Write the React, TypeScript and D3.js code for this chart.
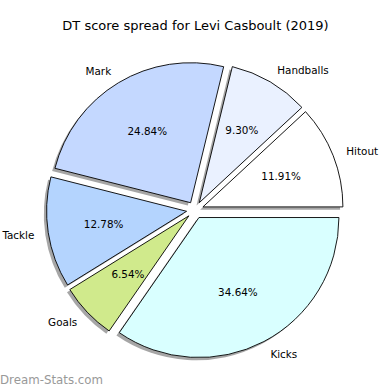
import React from 'react';
import * as d3 from 'd3';

const labels = ['Hitout', 'Handballs', 'Mark', 'Tackle', 'Goals', 'Kicks'];
const percents = [11.91, 9.3, 24.84, 12.78, 6.54, 34.64];
const colors = ['#ffffff', '#eaf1ff', '#c4d8ff', '#b4d4fe', '#d0ea8c', '#d9ffff'];

const W = 390;
const H = 390;
const cx = 195;
const cy = 210;
const R = 140;
const EXPLODE = 8.5;
const SHADOW = 2.8;
const FONT = 'DejaVu Sans, sans-serif';

export default function App(): React.ReactElement {
  // matplotlib pie: starts at east, goes counter-clockwise
  const pie = d3.pie<number>()
    .sort(null)
    .startAngle(Math.PI / 2)
    .endAngle(Math.PI / 2 - 2 * Math.PI);
  const arcs = pie(percents);
  const arc = d3.arc<d3.PieArcDatum<number>>().innerRadius(0).outerRadius(R);

  const slices = arcs.map((a, i) => {
    const mid = (a.startAngle + a.endAngle) / 2;
    const ux = Math.sin(mid);
    const uy = -Math.cos(mid);
    return {
      a,
      i,
      ux,
      uy,
      ox: ux * EXPLODE,
      oy: uy * EXPLODE,
    };
  });

  return (
    <svg width={W} height={H} style={{ position: 'absolute', left: 0, top: 0, background: '#fff' }}>
      <text x={W / 2 + 0.5} y={25} textAnchor="middle" dominantBaseline="central"
        fontFamily={FONT} fontSize={13} fill="#000">
        DT score spread for Levi Casboult (2019)
      </text>

      {/* shadows */}
      {slices.map((s) => (
        <path key={`sh-${s.i}`} d={arc(s.a) ?? ''}
          transform={`translate(${cx + s.ox - SHADOW},${cy + s.oy + SHADOW})`}
          fill="#4d4d4d" fillOpacity={0.5} />
      ))}

      {/* wedges */}
      {slices.map((s) => (
        <path key={`w-${s.i}`} d={arc(s.a) ?? ''}
          transform={`translate(${cx + s.ox},${cy + s.oy})`}
          fill={colors[s.i]} stroke="#000" strokeWidth={0.9} strokeLinejoin="miter" />
      ))}

      {/* labels */}
      {slices.map((s) => {
        const x = cx + s.ox + s.ux * R * 1.1;
        const y = cy + s.oy + s.uy * R * 1.1;
        return (
          <text key={`l-${s.i}`} x={x} y={y} textAnchor={s.ux > 0 ? 'start' : 'end'}
            dominantBaseline="central" fontFamily={FONT} fontSize={10.4} fill="#000">
            {labels[s.i]}
          </text>
        );
      })}

      {/* percentages */}
      {slices.map((s) => {
        const x = cx + s.ox + s.ux * R * 0.6;
        const y = cy + s.oy + s.uy * R * 0.6;
        return (
          <text key={`p-${s.i}`} x={x} y={y} textAnchor="middle"
            dominantBaseline="central" fontFamily={FONT} fontSize={10.4} fill="#000">
            {`${percents[s.i].toFixed(2)}%`}
          </text>
        );
      })}

      <text x={0} y={380} dominantBaseline="central" fontFamily={FONT}
        fontSize={11.8} fill="#999">
        Dream-Stats.com
      </text>
    </svg>
  );
}
